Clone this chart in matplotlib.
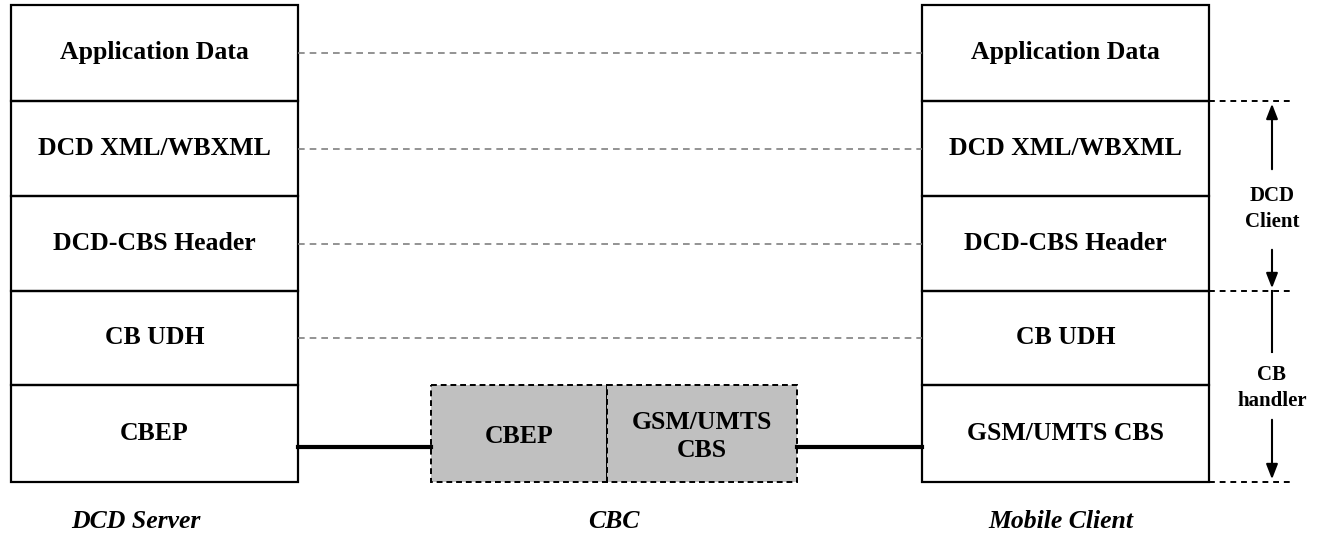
import matplotlib.pyplot as plt
from matplotlib.patches import Rectangle

# protocol layers, top to bottom
server_layers = ["Application Data", "DCD XML/WBXML", "DCD-CBS Header", "CB UDH", "CBEP"]
client_layers = ["Application Data", "DCD XML/WBXML", "DCD-CBS Header", "CB UDH", "GSM/UMTS CBS"]
cbc_layers = ["CBEP", "GSM/UMTS\nCBS"]
node_names = ["DCD Server", "CBC", "Mobile Client"]
side_labels = ["DCD\nClient", "CB\nhandler"]

W, H = 1331, 537
fig = plt.figure(figsize=(W / 100, H / 100), dpi=100)
ax = fig.add_axes([0, 0, 1, 1])
ax.set_xlim(0, W)
ax.set_ylim(H, 0)
ax.axis("off")

font = dict(family=["Liberation Serif", "DejaVu Serif"], weight="bold")
bounds = [5, 101, 196, 291, 385, 482]
left_x, right_x, stack_w = 11, 922, 287

# the two stacks
for x0, layers in [(left_x, server_layers), (right_x, client_layers)]:
    for i, name in enumerate(layers):
        y0, y1 = bounds[i], bounds[i + 1]
        ax.add_patch(Rectangle((x0, y0), stack_w, y1 - y0, fill=False,
                               edgecolor="black", lw=1.6))
        ax.text(x0 + stack_w / 2, (y0 + y1) / 2, name, ha="center", va="center",
                fontsize=18.5, **font)

# peer-to-peer dashed lines
for i in range(4):
    yc = (bounds[i] + bounds[i + 1]) / 2
    ax.plot([left_x + stack_w, right_x], [yc, yc], ls=(0, (4, 3)),
            color="#808080", lw=1.2)

# CBC boxes
cbc_x = [431, 607, 797]
for i, name in enumerate(cbc_layers):
    ax.add_patch(Rectangle((cbc_x[i], bounds[4]), cbc_x[i + 1] - cbc_x[i],
                           bounds[5] - bounds[4], facecolor="#c0c0c0",
                           edgecolor="black", lw=1.4, ls=(0, (3, 2))))
    ax.text((cbc_x[i] + cbc_x[i + 1]) / 2, (bounds[4] + bounds[5]) / 2 + 3, name,
            ha="center", va="center", fontsize=18.5, linespacing=1.25, **font)

# physical links
ax.plot([left_x + stack_w, cbc_x[0]], [447, 447], color="black", lw=3)
ax.plot([cbc_x[2], right_x], [447, 447], color="black", lw=3)

# right side brackets
for yb in [bounds[1], bounds[3], bounds[5]]:
    ax.plot([right_x + stack_w, 1292], [yb, yb], color="black", lw=1.4,
            ls=(0, (3, 2.5)))

ax_x = 1272
arrow = dict(arrowstyle="-|>,head_length=0.9,head_width=0.35", color="black", lw=1.5)
ax.annotate("", xy=(ax_x, bounds[1]), xytext=(ax_x, 172), arrowprops=arrow)
ax.annotate("", xy=(ax_x, bounds[3]), xytext=(ax_x, 247), arrowprops=arrow)
ax.plot([ax_x, ax_x], [bounds[3], 352], color="black", lw=1.5)
ax.annotate("", xy=(ax_x, bounds[5]), xytext=(ax_x, 417), arrowprops=arrow)
ax.text(ax_x, 209, side_labels[0], ha="center", va="center", fontsize=15,
        linespacing=1.4, **font)
ax.text(ax_x, 388, side_labels[1], ha="center", va="center", fontsize=15,
        linespacing=1.4, **font)

# node names
for xc, name in zip([136, 614, 1061], node_names):
    ax.text(xc, 521, name, ha="center", va="center", fontsize=18.5, style="italic",
            **font)

fig.savefig("out.png", dpi=100)
